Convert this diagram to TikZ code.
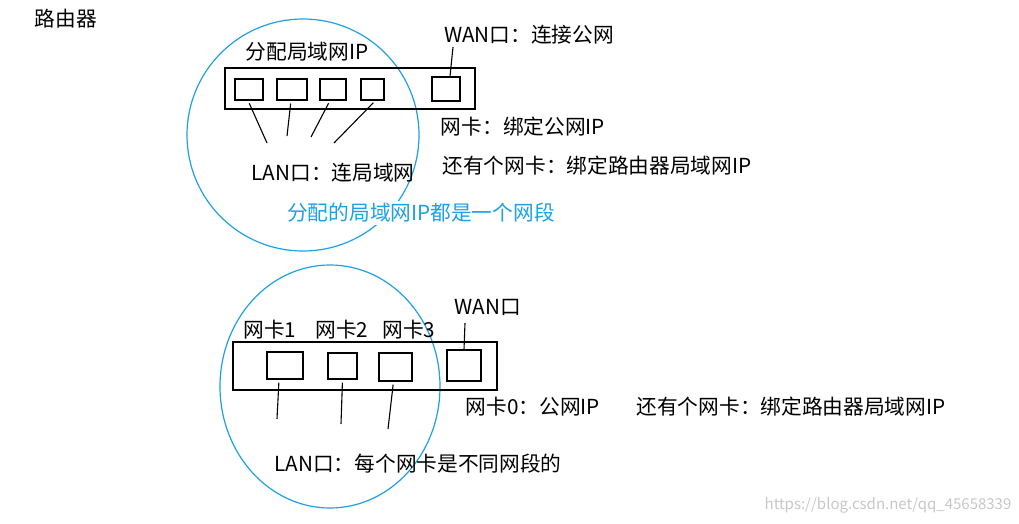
\documentclass[tikz,border=0pt]{standalone}
\usepackage{fontspec}
\newfontfamily\cjk{Noto Sans CJK SC}
\definecolor{lanblue}{RGB}{30,160,226}

\begin{document}
\begin{tikzpicture}[x=1pt, y=-1pt,
    font=\cjk\fontsize{20.7}{24}\selectfont,
    lbl/.style={inner sep=0pt},
    port/.style={draw, line width=1.1pt, inner sep=0pt},
    lead/.style={line width=1.1pt, shorten <=3pt},
    zone/.style={draw=lanblue, line width=1.2pt}]
  \useasboundingbox (0,0) rectangle (1019,524);

  % Title
  \node[lbl] (title) at (66,19) {路由器};

  % Define line end points (top router)
  \coordinate (e1) at (267,143);
  \coordinate (e2) at (287,136);
  \coordinate (e3) at (311,137);
  \coordinate (e4) at (334,143);
  \coordinate (w1) at (453,47);

  % Draw the LAN circle of the top router
  \draw[zone] (303,135) circle [radius=116pt];

  % Draw the top router and its ports
  \draw[line width=1.1pt] (225,68) rectangle (475,109);
  \node[port, minimum width=28pt, minimum height=21pt] (a1) at (249,89.5) {};
  \node[port, minimum width=30pt, minimum height=21pt] (a2) at (292,89.5) {};
  \node[port, minimum width=26pt, minimum height=21pt] (a3) at (333,89.5) {};
  \node[port, minimum width=23pt, minimum height=21pt] (a4) at (372.5,89.5) {};
  \node[port, minimum width=28pt, minimum height=24pt] (aw) at (446,89) {};

  % Labels of the top router
  \node[lbl] (alloc) at (307,52) {分配局域网IP};
  \node[lbl] (wanA) at (529,35) {WAN口：连接公网};
  \node[lbl] (nicA) at (523,127) {网卡：绑定公网IP};
  \node[lbl] (nicB) at (597,166) {还有个网卡：绑定路由器局域网IP};
  \node[lbl] (lanA) at (333,173) {LAN口：连局域网};
  \node[lbl, text=lanblue, fill=white, inner sep=2pt] (seg) at (421,213) {分配的局域网IP都是一个网段};

  % Draw the leads
  \draw[lead] ([xshift=-1pt]a1.south) -- (e1);
  \draw[lead] ([xshift=-1pt]a2.south) -- (e2);
  \draw[lead] ([xshift=-3pt]a3.south) -- (e3);
  \draw[lead] ([xshift=3pt]a4.south) -- (e4);
  \draw[line width=1.1pt] (w1) -- ([xshift=4pt]aw.north);

  % Define line end points (bottom router)
  \coordinate (f1) at (277,419);
  \coordinate (f2) at (341,424);
  \coordinate (f3) at (388,429);
  \coordinate (w2) at (465,323);

  % Draw the LAN ellipse of the bottom router
  \draw[zone] (330,386.5) ellipse [x radius=110pt, y radius=121.5pt];

  % Draw the bottom router and its ports
  \draw[line width=1.1pt] (233,342) rectangle (497,390);
  \node[port, minimum width=36pt, minimum height=27pt] (b1) at (285,365.5) {};
  \node[port, minimum width=29pt, minimum height=26pt] (b2) at (342.5,366) {};
  \node[port, minimum width=33pt, minimum height=28pt] (b3) at (395.5,367) {};
  \node[port, minimum width=34pt, minimum height=31pt] (bw) at (464,365.5) {};

  % Labels of the bottom router
  \node[lbl] (nic1) at (270,330) {网卡1};
  \node[lbl] (nic2) at (342,330) {网卡2};
  \node[lbl] (nic3) at (409,330) {网卡3};
  \node[lbl] (wanB) at (488,307) {WAN口};
  \node[lbl] (nic0) at (533,407) {网卡0：公网IP};
  \node[lbl] (nicC) at (791,407) {还有个网卡：绑定路由器局域网IP};
  \node[lbl] (lanB) at (418,464) {LAN口：每个网卡是不同网段的};

  % Draw the leads
  \draw[lead] ([xshift=-6pt]b1.south) -- (f1);
  \draw[lead] ([xshift=0pt]b2.south) -- (f2);
  \draw[lead] ([xshift=-2pt]b3.south) -- (f3);
  \draw[line width=1.1pt] (w2) -- (bw.north);

  % Watermark
  \node[lbl, text=black!22, font=\cjk\fontsize{15}{18}\selectfont] (mark) at (888,505) {https://blog.csdn.net/qq\_45658339};
\end{tikzpicture}
\end{document}
